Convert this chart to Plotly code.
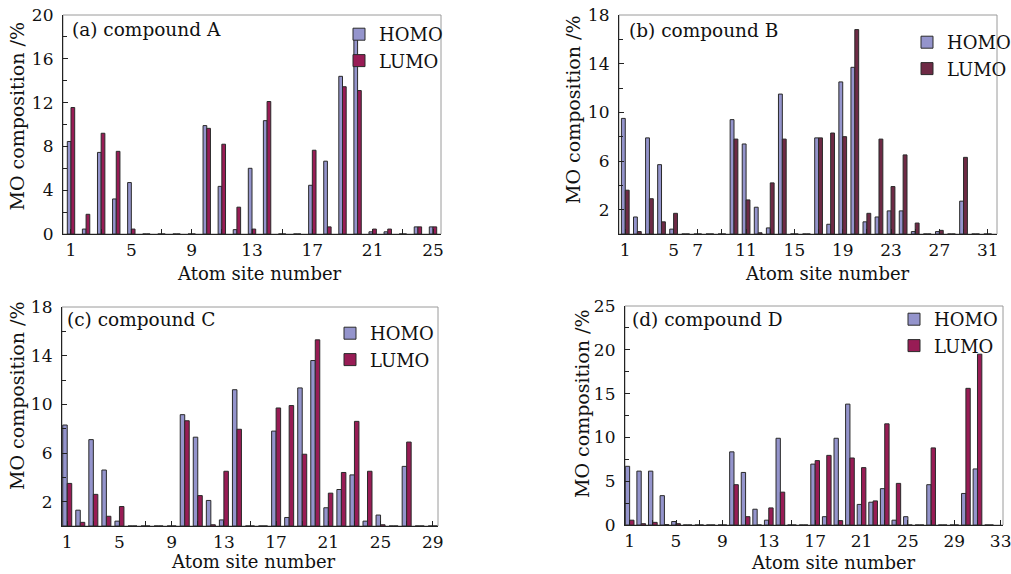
import plotly.graph_objects as go

# ---------------- data ----------------
atoms_a = list(range(1, 26))
homo_a = [8.45, 0.45, 7.45, 3.2, 4.7, 0, 0, 0, 0, 9.9, 4.35, 0.4, 6.0, 10.35, 0, 0,
          4.45, 6.65, 14.4, 17.85, 0.2, 0.2, 0, 0.65, 0.65]
lumo_a = [11.55, 1.8, 9.2, 7.55, 0.45, 0, 0, 0, 0, 9.65, 8.2, 2.45, 0.45, 12.1, 0, 0,
          7.65, 0.65, 13.45, 13.1, 0.45, 0.45, 0, 0.65, 0.65]

atoms_b = list(range(1, 32))
homo_b = [9.5, 1.4, 7.9, 5.7, 0.4, 0, 0, 0, 0, 9.4, 7.4, 2.2, 0.5, 11.5, 0, 0,
          7.9, 0.8, 12.5, 13.7, 1.0, 1.4, 1.9, 1.9, 0.2, 0, 0.2, 0, 2.7, 0, 0]
lumo_b = [3.6, 0.2, 2.9, 1.0, 1.7, 0, 0, 0, 0, 7.8, 2.8, 0.1, 4.2, 7.8, 0, 0,
          7.9, 8.3, 8.0, 16.8, 1.7, 7.8, 3.9, 6.5, 0.9, 0, 0.3, 0, 6.3, 0, 0]

atoms_c = list(range(1, 30))
homo_c = [8.3, 1.3, 7.1, 4.6, 0.4, 0, 0, 0, 0, 9.15, 7.3, 2.1, 0.5, 11.2, 0, 0,
          7.8, 0.7, 11.35, 13.6, 1.5, 3.0, 4.2, 0.4, 0.9, 0, 4.9, 0, 0]
lumo_c = [3.5, 0.3, 2.6, 0.8, 1.6, 0, 0, 0, 0, 8.65, 2.5, 0.1, 4.5, 7.95, 0, 0,
          9.7, 9.9, 5.9, 15.3, 2.7, 4.4, 8.6, 4.5, 0.1, 0, 6.9, 0, 0]

atoms_d = list(range(1, 33))
homo_d = [6.7, 6.15, 6.15, 3.35, 0.4, 0, 0, 0, 0, 8.35, 6.0, 1.8, 0.55, 9.9, 0, 0,
          6.95, 0.95, 9.9, 13.8, 2.35, 2.6, 4.15, 0.55, 0.95, 0, 4.6, 0, 0, 3.6, 6.4, 0]
lumo_d = [0.55, 0.15, 0.3, 0.05, 0.15, 0, 0, 0, 0, 4.6, 0.95, 0, 1.95, 3.75, 0, 0,
          7.35, 7.95, 0.5, 7.65, 6.55, 2.75, 11.55, 4.75, 0, 0, 8.8, 0, 0, 15.6, 19.5, 0]

xticks_a = [1, 5, 9, 13, 17, 21, 25]
xticks_b = [1, 5, 7, 11, 15, 19, 23, 27, 31]
xticks_c = [1, 5, 9, 13, 17, 21, 25, 29]
xticks_d = [1, 5, 9, 13, 17, 21, 25, 29, 33]

panel_titles = ["(a) compound A", "(b) compound B", "(c) compound C", "(d) compound D"]

# ---------------- layout geometry ----------------
W, H = 1011, 574
FONT = "DejaVu Serif"
HOMO_COLOR = "#9494cc"
LUMO_COLORS = ["#981c55", "#6e2a45", "#981c55", "#981c55"]


def fx(px):
    return px / W


def fy(py):
    return 1 - py / H


panels = [
    dict(atoms=atoms_a, homo=homo_a, lumo=lumo_a, xt=xticks_a, xr=[0.47, 25.53],
         yr=[0, 20], ytick0=0, ydtick=4, w=0.245,
         box=(63, 441, 15, 234), title_xy=(70, 29), leg=(339, 16),
         ytitle=(16.5, 117), xtitle=(259, 273)),
    dict(atoms=atoms_b, homo=homo_b, lumo=lumo_b, xt=xticks_b, xr=[0.48, 31.77],
         yr=[0, 18], ytick0=2, ydtick=4, w=0.32,
         box=(619, 997, 15, 234), title_xy=(627, 30), leg=(907, 24),
         ytitle=(573, 110), xtitle=(827, 273)),
    dict(atoms=atoms_c, homo=homo_c, lumo=lumo_c, xt=xticks_c, xr=[0.6, 29.4],
         yr=[0, 18], ytick0=2, ydtick=4, w=0.345,
         box=(62, 438, 307, 526), title_xy=(65, 319), leg=(330, 315),
         ytitle=(17, 396), xtitle=(253, 561)),
    dict(atoms=atoms_d, homo=homo_d, lumo=lumo_d, xt=xticks_d, xr=[0.6, 33.2],
         yr=[0, 25], ytick0=0, ydtick=5, w=0.375,
         box=(625, 1003, 306, 525), title_xy=(630, 319), leg=(894, 301),
         ytitle=(582, 404), xtitle=(833, 562)),
]

fig = go.Figure()
annotations = []
shapes = []

for i, p in enumerate(panels):
    n = i + 1
    xa = "x" if n == 1 else f"x{n}"
    ya = "y" if n == 1 else f"y{n}"
    leg = "legend" if n == 1 else f"legend{n}"
    w = p["w"]
    fig.add_trace(go.Bar(
        x=p["atoms"], y=p["homo"], name="HOMO", width=w, offset=-w,
        marker=dict(color=HOMO_COLOR, line=dict(color="#2a2a2a", width=1)),
        xaxis=xa, yaxis=ya, legend=leg))
    fig.add_trace(go.Bar(
        x=p["atoms"], y=p["lumo"], name="LUMO", width=w, offset=0,
        marker=dict(color=LUMO_COLORS[i], line=dict(color="#2a2a2a", width=1)),
        xaxis=xa, yaxis=ya, legend=leg))

    x0, x1, y0, y1 = p["box"]
    xdom = [fx(x0), fx(x1)]
    ydom = [fy(y1), fy(y0)]
    axis_common = dict(showgrid=False, zeroline=False, showline=True,
                       linecolor="#222", linewidth=1.2, ticks="inside",
                       ticklen=5, tickcolor="#222", automargin=False,
                       ticklabeloverflow="allow",
                       tickfont=dict(family=FONT, size=17, color="#111"))
    xkey = "xaxis" if n == 1 else f"xaxis{n}"
    ykey = "yaxis" if n == 1 else f"yaxis{n}"
    fig.update_layout(**{
        xkey: dict(domain=xdom, range=p["xr"], anchor=ya, tickmode="array",
                   tickvals=p["xt"], ticktext=[str(t) for t in p["xt"]],
                   minor=dict(tickmode="linear", tick0=1, dtick=2, ticks="inside",
                              ticklen=5, tickcolor="#222"),
                   **axis_common),
        ykey: dict(domain=ydom, range=p["yr"], anchor=xa, tick0=p["ytick0"],
                   dtick=p["ydtick"], ticklabelstandoff=5,
                   minor=dict(tick0=0, dtick=p["ydtick"] / 2, ticks="inside",
                              ticklen=4, tickcolor="#222"),
                   **axis_common),
    })
    # gray frame (top/right)
    shapes.append(dict(type="rect", xref="paper", yref="paper",
                       x0=xdom[0], x1=xdom[1], y0=ydom[0], y1=ydom[1],
                       line=dict(color="#9a9a9a", width=1), layer="below"))
    # legend
    fig.update_layout(**{leg: dict(
        x=fx(p["leg"][0]), y=fy(p["leg"][1]), xanchor="left", yanchor="top",
        bgcolor="rgba(0,0,0,0)", borderwidth=0,
        font=dict(family=FONT, size=18, color="#111"),
        itemwidth=30, tracegroupgap=0)})
    # panel title
    annotations.append(dict(text=panel_titles[i], xref="paper", yref="paper",
                            x=fx(p["title_xy"][0]), y=fy(p["title_xy"][1]),
                            xanchor="left", yanchor="middle", showarrow=False,
                            font=dict(family=FONT, size=18.5, color="#111")))
    # y title
    annotations.append(dict(text="MO composition /%", xref="paper", yref="paper",
                            x=fx(p["ytitle"][0]), y=fy(p["ytitle"][1]),
                            xanchor="center", yanchor="middle", textangle=-90,
                            showarrow=False,
                            font=dict(family=FONT, size=19, color="#111")))
    # x title
    annotations.append(dict(text="Atom site number", xref="paper", yref="paper",
                            x=fx(p["xtitle"][0]), y=fy(p["xtitle"][1]),
                            xanchor="center", yanchor="middle", showarrow=False,
                            font=dict(family=FONT, size=18, color="#111")))

fig.update_layout(
    width=W, height=H, margin=dict(l=0, r=0, t=0, b=0, pad=0, autoexpand=False),
    paper_bgcolor="white", plot_bgcolor="white",
    barmode="overlay", showlegend=True,
    annotations=annotations, shapes=shapes,
)

# place the figure at the window's top-left corner (no default page margin)
fig.write_html("out.html",
               config={"displayModeBar": False},
               post_script="document.body.style.margin='0';"
                           "document.body.style.overflow='hidden';")
